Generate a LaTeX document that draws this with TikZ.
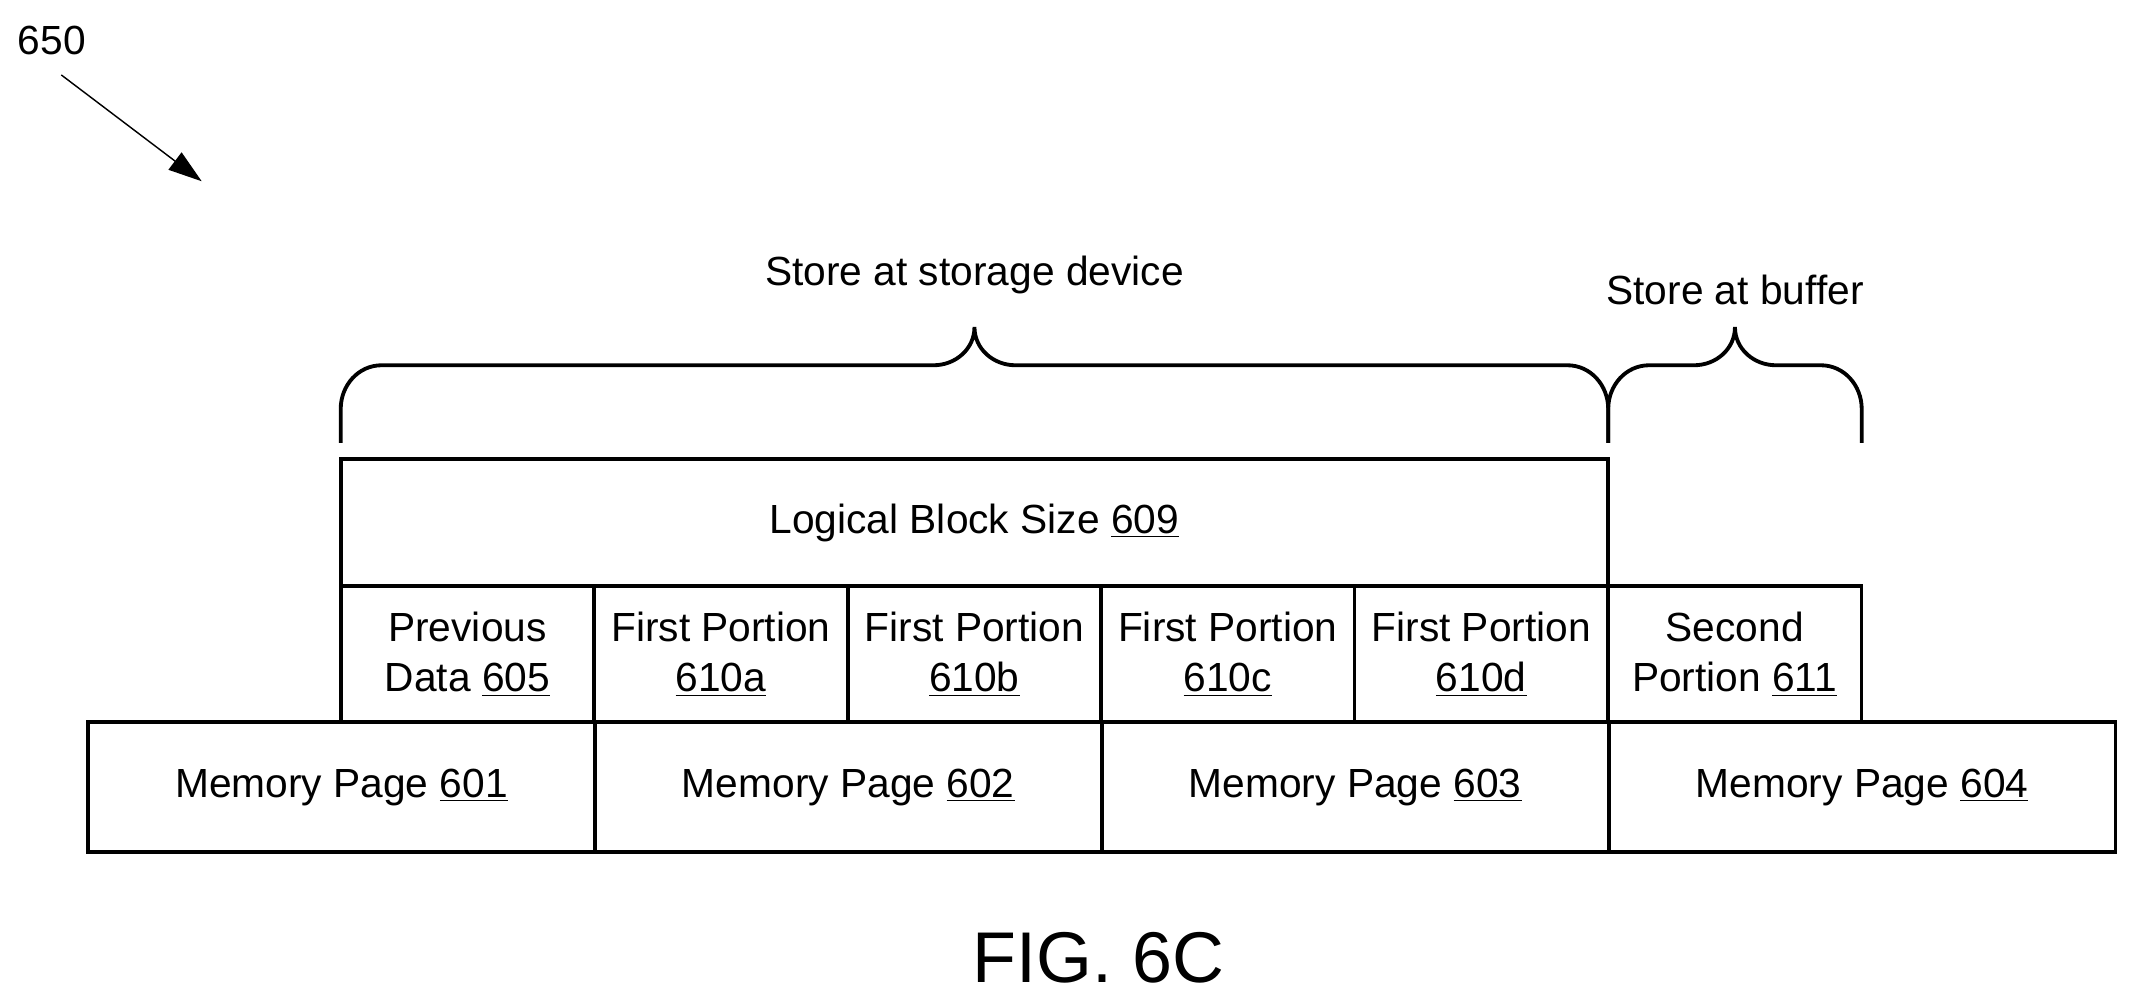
\documentclass[tikz,border=0pt]{standalone}
\usepackage{fontspec}
\setmainfont{Liberation Sans}
\usetikzlibrary{positioning,arrows.meta}
\tikzset{
  cell/.style={draw, line width=1.6pt, inner sep=0pt, outer sep=0pt, align=center, minimum height=1.9cm},
  page/.style={cell, minimum width=7.44cm},
  part/.style={cell, minimum width=3.72cm, minimum height=2cm},
  brace/.style={line width=1.6pt},
  lbl/.style={font=\fontsize{17}{21}\selectfont, align=center}
}
\begin{document}
\begin{tikzpicture}[x=0.02cm, y=-0.02cm, every node/.style={font=\fontsize{17}{21}\selectfont}]
  \useasboundingbox (0,0) rectangle (1568,737);

  % memory pages
  \node [page] (p601) at (250.5,577.5) {Memory Page \underline{601}};
  \node [page, right=0pt of p601] (p602) {Memory Page \underline{602}};
  \node [page, right=0pt of p602] (p603) {Memory Page \underline{603}};
  \node [page, right=0pt of p603] (p604) {Memory Page \underline{604}};

  % data portions
  \node [part] (d605) at (343,480) {Previous\\Data \underline{605}};
  \node [part, right=0pt of d605] (d610a) {First Portion\\\underline{610a}};
  \node [part, right=0pt of d610a] (d610b) {First Portion\\\underline{610b}};
  \node [part, right=0pt of d610b] (d610c) {First Portion\\\underline{610c}};
  \node [part, right=0pt of d610c] (d610d) {First Portion\\\underline{610d}};
  \node [part, right=0pt of d610d] (d611) {Second\\Portion \underline{611}};

  \node [cell, minimum width=18.6cm, minimum height=1.86cm, anchor=south west] (lbs) at (d605.north west) {Logical Block Size \underline{609}};

  % braces
  \draw [brace] (250,325) -- (250,300) to[out=90,in=180] (280,268) -- (685,268)
    to[out=0,in=270] (715,240) to[out=270,in=180] (745,268) -- (1150,268)
    to[out=0,in=90] (1180,300) -- (1180,325);
  \draw [brace] (1180,325) -- (1180,300) to[out=90,in=180] (1210,268) -- (1243,268)
    to[out=0,in=270] (1273,240) to[out=270,in=180] (1303,268) -- (1336,268)
    to[out=0,in=90] (1366,300) -- (1366,325);
  \node [lbl] (tstore) at (715,202) {Store at storage device};
  \node [lbl] (tbuf) at (1273,213) {Store at buffer};

  % reference label
  \node (ref) at (38,30) {650};
  \coordinate (reftip) at (148,133);
  \draw [-{Triangle[length=14pt,width=9pt]}, line width=0.6pt] (45,55) -- (reftip);

  \node [font=\fontsize{30}{36}\selectfont] (fig) at (806,703) {FIG. 6C};
\end{tikzpicture}
\end{document}
